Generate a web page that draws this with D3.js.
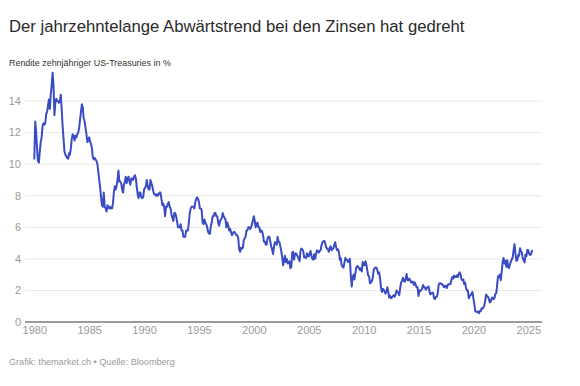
<!DOCTYPE html>
<html>
<head>
<meta charset="utf-8">
<script src="https://cdn.jsdelivr.net/npm/d3@7"></script>
<style>
  html, body { margin: 0; padding: 0; background: #fff; }
  svg { display: block; font-family: "Liberation Sans", Arial, Helvetica, sans-serif; }
</style>
</head>
<body>
<svg id="chart" width="580" height="386"></svg>
<script>
// ---- Data (monthly, 10-year US Treasury yield in %) ----
const title = "Der jahrzehntelange Abwärtstrend bei den Zinsen hat gedreht";
const subtitle = "Rendite zehnjähriger US-Treasuries in %";
const footer = "Grafik: themarket.ch • Quelle: Bloomberg";

const years = [1980,1981,1982,1983,1984,1985,1986,1987,1988,1989,
               1990,1991,1992,1993,1994,1995,1996,1997,1998,1999,
               2000,2001,2002,2003,2004,2005,2006,2007,2008,2009,
               2010,2011,2012,2013,2014,2015,2016,2017,2018,2019,
               2020,2021,2022,2023,2024,2025];

const yields = [
  [10.3,12.7,12.1,11.0,10.2,10.1,10.8,11.4,11.7,12.4,12.6,12.5], // 1980
  [12.6,13.2,13.3,13.7,14.1,13.5,14.4,15.0,15.8,15.0,13.1,13.9], // 1981
  [14.15,14.0,14.0,13.9,14.0,14.4,13.5,12.4,11.6,10.8,10.6,10.5], // 1982
  [10.4,10.35,10.7,10.6,11.0,11.6,11.9,11.8,11.5,11.8,11.7,11.9], // 1983
  [12.0,12.3,12.8,13.3,13.8,13.6,12.9,12.7,12.3,11.9,11.4,11.5], // 1984
  [11.7,11.4,11.3,11.0,10.45,10.3,10.4,10.3,10.2,10.0,9.5,9.0], // 1985
  [8.5,7.9,7.4,7.3,8.2,7.3,7.2,7.0,7.4,7.3,7.2,7.3], // 1986
  [7.2,7.2,7.5,8.2,8.6,8.4,8.6,9.0,9.6,8.9,8.9,8.8], // 1987
  [8.4,8.2,8.7,8.9,9.2,8.8,9.1,9.2,8.9,8.7,9.1,9.1], // 1988
  [9.0,9.2,9.3,9.1,8.6,8.1,7.85,8.2,8.2,7.9,7.85,7.9], // 1989
  [8.4,8.5,8.6,9.0,8.6,8.4,8.4,9.0,8.8,8.6,8.3,8.1], // 1990
  [8.1,8.0,8.1,8.0,8.1,8.2,8.2,7.8,7.4,7.5,7.3,6.7], // 1991
  [7.3,7.3,7.5,7.6,7.3,7.2,6.8,6.6,6.4,6.9,6.9,6.7], // 1992
  [6.4,6.0,6.0,6.0,6.2,5.8,5.8,5.4,5.4,5.4,5.8,5.8], // 1993
  [5.8,6.4,6.9,7.2,7.3,7.3,7.3,7.2,7.6,7.8,7.9,7.8], // 1994
  [7.6,7.2,7.2,7.1,6.3,6.2,6.5,6.3,6.2,6.0,5.7,5.6], // 1995
  [5.6,6.1,6.3,6.7,6.7,6.9,6.9,6.7,6.7,6.3,6.1,6.4], // 1996
  [6.5,6.6,6.9,6.7,6.6,6.5,6.0,6.3,6.1,5.8,5.9,5.7], // 1997
  [5.5,5.6,5.7,5.7,5.6,5.5,5.5,5.3,4.6,4.45,4.7,4.65], // 1998
  [4.7,5.2,5.3,5.4,5.8,5.8,6.0,6.0,5.9,6.0,6.2,6.45], // 1999
  [6.7,6.4,6.0,6.2,6.3,6.0,6.0,5.7,5.8,5.75,5.5,5.1], // 2000
  [5.1,4.9,4.9,5.3,5.4,5.4,5.1,4.8,4.6,4.3,4.75,5.05], // 2001
  [5.0,4.9,5.4,5.1,5.05,4.8,4.5,4.1,3.6,3.9,4.2,3.8], // 2002
  [4.0,3.7,3.8,3.85,3.4,3.5,4.4,4.45,3.95,4.3,4.35,4.25], // 2003
  [4.15,4.0,3.85,4.5,4.65,4.6,4.5,4.1,4.1,4.05,4.35,4.2], // 2004
  [4.15,4.35,4.5,4.2,4.0,3.95,4.3,4.0,4.3,4.55,4.5,4.4], // 2005
  [4.5,4.55,4.85,5.05,5.1,5.15,5.0,4.75,4.65,4.6,4.45,4.7], // 2006
  [4.8,4.55,4.65,4.65,4.9,5.05,4.75,4.55,4.6,4.45,3.95,4.05], // 2007
  [3.6,3.5,3.45,3.75,4.05,3.95,3.95,3.8,3.85,4.0,2.9,2.25], // 2008
  [2.85,3.0,2.7,3.1,3.45,3.55,3.5,3.4,3.3,3.4,3.2,3.8], // 2009
  [3.6,3.6,3.85,3.65,3.3,2.95,2.9,2.45,2.5,2.6,2.8,3.3], // 2010
  [3.4,3.45,3.45,3.3,3.05,3.15,2.8,2.2,1.9,2.1,2.05,1.9], // 2011
  [1.8,1.95,2.2,1.9,1.55,1.65,1.5,1.55,1.65,1.7,1.6,1.75], // 2012
  [2.0,1.9,1.85,1.7,2.15,2.5,2.6,2.8,2.6,2.55,2.75,3.05], // 2013
  [2.65,2.65,2.75,2.65,2.5,2.55,2.55,2.35,2.5,2.35,2.2,2.2], // 2014
  [1.65,2.0,1.95,2.05,2.1,2.35,2.2,2.2,2.05,2.15,2.2,2.25], // 2015
  [1.95,1.75,1.8,1.85,1.85,1.5,1.45,1.6,1.6,1.8,2.35,2.45], // 2016
  [2.45,2.4,2.4,2.3,2.2,2.3,2.3,2.15,2.35,2.4,2.4,2.4], // 2017
  [2.7,2.85,2.75,2.95,2.85,2.85,2.95,2.85,3.05,3.15,3.0,2.7], // 2018
  [2.65,2.7,2.4,2.5,2.15,2.0,2.0,1.5,1.65,1.7,1.8,1.9], // 2019
  [1.5,1.15,0.7,0.64,0.65,0.66,0.55,0.7,0.68,0.87,0.84,0.92], // 2020
  [1.07,1.4,1.74,1.63,1.6,1.45,1.24,1.3,1.5,1.55,1.45,1.5], // 2021
  [1.78,1.83,2.35,2.9,2.85,3.0,2.65,3.2,3.8,4.05,3.7,3.88], // 2022
  [3.5,3.92,3.48,3.42,3.65,3.84,3.96,4.1,4.57,4.93,4.33,3.88], // 2023
  [3.91,4.25,4.2,4.68,4.5,4.4,4.03,3.9,3.78,4.28,4.17,4.57], // 2024
  [4.55,4.3,4.25,4.3,4.5,4.55] // 2025
];

const yTicks = [0,2,4,6,8,10,12,14];
const xTicks = [1980,1985,1990,1995,2000,2005,2010,2015,2020,2025];

// ---- Build series ----
const series = [];
years.forEach((y, i) => {
  yields[i].forEach((v, m) => series.push({ date: new Date(y, m, 1), value: v }));
});

const svg = d3.select("#chart");

// ---- Scales ----
const x = d3.scaleTime()
  .domain([new Date(1980, 0, 1), new Date(2025, 0, 1)])
  .range([34.3, 528.3]);
const y = d3.scaleLinear().domain([0, 16]).range([322, 69.5]);

const gridLeft = 25, gridRight = 542;

// ---- Gridlines ----
svg.append("g").selectAll("line")
  .data(yTicks.filter(d => d !== 0))
  .join("line")
  .attr("x1", gridLeft).attr("x2", gridRight)
  .attr("y1", d => y(d)).attr("y2", d => y(d))
  .attr("stroke", "#e8e8e8").attr("stroke-width", 1);

// ---- Y labels ----
svg.append("g").selectAll("text")
  .data(yTicks)
  .join("text")
  .attr("x", 21).attr("y", d => y(d))
  .attr("dy", "0.35em")
  .attr("text-anchor", "end")
  .attr("font-size", 11)
  .attr("fill", "#9a9a9a")
  .text(d => d);

// ---- X axis labels ----
const xAxis = d3.axisBottom(x)
  .tickValues(xTicks.map(t => new Date(t, 0, 1)))
  .tickFormat(d3.timeFormat("%Y"))
  .tickSize(0).tickPadding(0);
const gx = svg.append("g").attr("transform", "translate(0,326)").call(xAxis);
gx.select(".domain").remove();
gx.selectAll("text")
  .attr("font-size", 11)
  .attr("font-family", "Liberation Sans, Arial, sans-serif")
  .attr("fill", "#9a9a9a")
  .attr("dy", "0.71em");

// ---- Line ----
const line = d3.line()
  .x(d => x(d.date))
  .y(d => y(d.value))
  .curve(d3.curveLinear);

svg.append("path")
  .datum(series)
  .attr("fill", "none")
  .attr("stroke", "#3a4cc4")
  .attr("stroke-width", 2)
  .attr("stroke-linejoin", "round")
  .attr("d", line);

// ---- Zero line ----
svg.append("line")
  .attr("x1", gridLeft).attr("x2", gridRight)
  .attr("y1", y(0)).attr("y2", y(0))
  .attr("stroke", "#7a7a7a").attr("stroke-width", 1.5);

// ---- Texts ----
function fitText(sel, targetWidth) {
  const node = sel.node();
  const w = node.getComputedTextLength();
  const fs = parseFloat(sel.attr("font-size"));
  sel.attr("font-size", (fs * targetWidth / w).toFixed(2));
}

const t = svg.append("text")
  .attr("x", 9).attr("y", 32)
  .attr("font-size", 19)
  .attr("fill", "#2a2a2a")
  .text(title);
fitText(t, 456);

const st = svg.append("text")
  .attr("x", 9).attr("y", 65.5)
  .attr("font-size", 11)
  .attr("fill", "#333")
  .text(subtitle);
fitText(st, 162);

const ft = svg.append("text")
  .attr("x", 9).attr("y", 365)
  .attr("font-size", 10.5)
  .attr("fill", "#9a9a9a")
  .text(footer);
fitText(ft, 166);
</script>
</body>
</html>
